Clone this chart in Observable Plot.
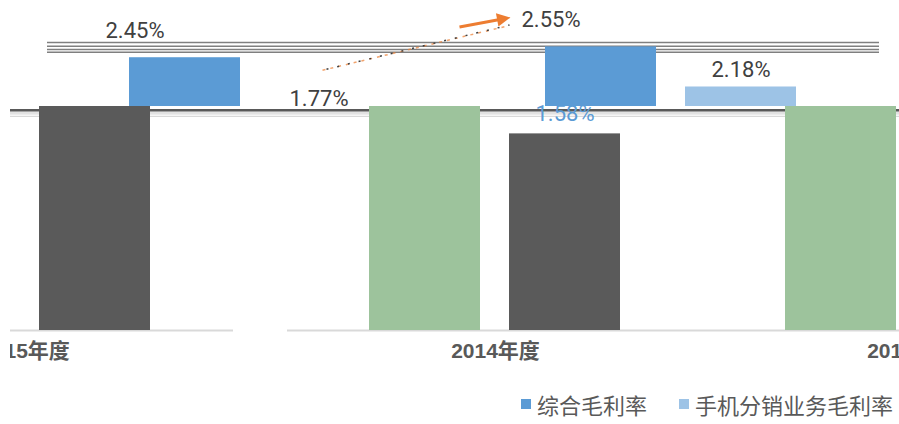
<!DOCTYPE html>
<html><head><meta charset="utf-8">
<script src="https://cdn.jsdelivr.net/npm/d3@7"></script>
<script src="https://cdn.jsdelivr.net/npm/@observablehq/plot@0.6"></script>
<style>
html,body{margin:0;padding:0;background:#fff;}
#wrap{position:relative;width:899px;height:424px;overflow:hidden;background:#fff;}
#bottom{position:absolute;left:-129px;top:86px;width:1248px;}
#top{position:absolute;left:47px;top:0;width:1248px;}
#mask{position:absolute;left:0;top:0;width:10px;height:424px;background:#fff;}
#legend{position:absolute;left:521px;top:387px;width:420px;}
#wrap svg{max-width:none !important;}
#legend div{font-size:22px !important;color:#595959 !important;font-family:"Noto Sans CJK SC","Noto Sans",sans-serif !important;}
#legend .lg-swatch{margin-right:32px !important;}
#legend .lg-swatch > svg{margin-right:6px !important;}
</style></head><body>
<div id="wrap"><div id="bottom"></div><div id="top"></div><div id="mask"></div><div id="legend"></div></div>
<script>
// ---- data ----
const years = ["2015年度", "2014年度", "2013年度"];
const topSeries = ["综合毛利率", "手机分销业务毛利率"];
const zongheRate = [2.45, 2.55, null];     // 综合毛利率 (%)
const phoneRate = [1.77, 2.18, null];      // 手机分销业务毛利率 (%)
const bottomSeries = ["系列3", "系列4"];
const series3 = [null, 1.92, 2.05];        // green bars (clipped at top)
const series4 = [1.98, 1.58, null];        // dark grey bars
const topGrid = [2.5, 2.525, 2.555, 2.59];
const bottomGrid = [1.72, 1.74, 1.755];
const refLine = [1.77];
const trendFrom = {year: "2015年度", series: "手机分销业务毛利率", value: 2.33};
const trendTo = {year: "2014年度", series: "综合毛利率"};

// ---- tables ----
const topRows = [];
years.forEach((yr, i) => {
  if (zongheRate[i] != null) topRows.push({year: yr, series: topSeries[0], value: zongheRate[i]});
  if (phoneRate[i] != null) topRows.push({year: yr, series: topSeries[1], value: phoneRate[i]});
});
const bottomRows = [];
years.forEach((yr, i) => {
  if (series3[i] != null) bottomRows.push({year: yr, series: bottomSeries[0], value: series3[i]});
  if (series4[i] != null) bottomRows.push({year: yr, series: bottomSeries[1], value: series4[i]});
});
const pct = v => d3.format(".2f")(v) + "%";

const bandX = {paddingInner: 0.207, paddingOuter: 0.589, axis: null};
const labelFont = "Roboto, 'Liberation Sans', sans-serif";

// ---- top layer ----
const yTopMin = 2.0, yTopMax = 2.978;
const lbOpts = {fx: "year", x: "series", y: "value", text: d => pct(d.value),
  fontSize: 22, fill: "#404040", fontFamily: labelFont};
const topPlot = Plot.plot({
  width: 1248, height: 114,
  marginTop: 0, marginBottom: 8, marginLeft: 0, marginRight: 0,
  style: {background: "transparent", overflow: "hidden"},
  fx: {domain: years, padding: 0, axis: null},
  x: {domain: topSeries, ...bandX},
  y: {domain: [yTopMin, yTopMax], clamp: true, axis: null},
  color: {domain: topSeries, range: ["#5B9BD5", "#9DC3E6"]},
  marks: [
    Plot.ruleY(topGrid, {stroke: "#7f7f7f", strokeWidth: 1.5}),
    Plot.barY(topRows, {fx: "year", x: "series", y: "value", fill: "series"}),
    Plot.text(topRows.filter(d => d.series === topSeries[0]), {...lbOpts, dx: -50, dy: -27}),
    Plot.text(topRows.filter(d => d.series === topSeries[1] && d.value >= yTopMin), {...lbOpts, dy: -17}),
    Plot.text(topRows.filter(d => d.series === topSeries[1] && d.value < yTopMin), {...lbOpts, dx: -6, dy: -8})
  ]
});
document.getElementById("top").appendChild(topPlot);

// trend arrow, positioned through the plot's scales
(function () {
  const fxS = topPlot.scale("fx"), xS = topPlot.scale("x"), yS = topPlot.scale("y");
  const cx = (yr, s) => fxS.apply(yr) + xS.apply(s) + xS.bandwidth / 2;
  const x0 = cx(trendFrom.year, trendFrom.series) - 2;
  const y0 = yS.apply(trendFrom.value);
  const labelX = cx(trendTo.year, trendTo.series) - 50;
  const x2 = labelX - 48, y2 = 19;
  const x1 = x2 - 43, y1 = y2 + 8;
  const svg = d3.select(topPlot);
  const defs = svg.append("defs");
  defs.append("marker").attr("id", "ah").attr("viewBox", "0 0 10 10")
    .attr("refX", 4).attr("refY", 5).attr("markerWidth", 5.5).attr("markerHeight", 4.5)
    .attr("orient", "auto")
    .append("path").attr("d", "M0,0L10,5L0,10z").attr("fill", "#ED7D31");
  svg.append("line").attr("x1", x0).attr("y1", y0).attr("x2", x1 + 48).attr("y2", y1 - 1)
    .attr("stroke", "#ED7D31").attr("stroke-opacity", 0.7).attr("stroke-width", 1.5).attr("stroke-dasharray", "3 5");
  svg.append("line").attr("x1", x0 + 4).attr("y1", y0 - 1).attr("x2", x1 + 50).attr("y2", y1 - 2)
    .attr("stroke", "#404040").attr("stroke-width", 1.5).attr("stroke-dasharray", "2 9");
  svg.append("line").attr("x1", x1).attr("y1", y1).attr("x2", x2).attr("y2", y2)
    .attr("stroke", "#ED7D31").attr("stroke-width", 3).attr("marker-end", "url(#ah)");
})();

// ---- bottom layer ----
const yBotMax = 1.8;
const shiftedYear = years[0];
const notShifted = d => d.year !== shiftedYear;
const isShifted = d => d.year === shiftedYear;
const barOpts = {fx: "year", x: "series", y: "value", fill: "series"};
const lblOpts = {fx: "year", x: "series", y: "value", text: d => pct(d.value),
  dy: -20, fontSize: 22, fill: "#5B9BD5", fontFamily: labelFont};
const yearOpts = {fx: d => d, text: d => d, frameAnchor: "bottom", dy: 27,
  fontSize: 21, fontWeight: "bold", fill: "#595959",
  fontFamily: "'Liberation Sans', 'Noto Sans CJK SC', sans-serif"};
const yearRows = years.map(y => ({year: y}));
const bottomPlot = Plot.plot({
  width: 1248, height: 290,
  marginTop: 20, marginBottom: 46, marginLeft: 0, marginRight: 0,
  style: {background: "transparent", overflow: "hidden"},
  fx: {domain: years, padding: 0, axis: null},
  x: {domain: bottomSeries, ...bandX},
  y: {domain: [0, yBotMax], clamp: true, axis: null},
  color: {domain: bottomSeries, range: ["#9DC39C", "#5A5A5A"]},
  marks: [
    Plot.ruleY(bottomGrid, {stroke: "#d9d9d9", strokeWidth: 1.2}),
    Plot.ruleY(refLine, {stroke: "#595959", strokeWidth: 2.5}),
    Plot.ruleY(yearRows.filter(notShifted), {fx: "year", y: () => 0, stroke: "#d9d9d9", strokeWidth: 2}),
    Plot.ruleY(yearRows.filter(isShifted), {fx: "year", y: () => 0, stroke: "#d9d9d9", strokeWidth: 2, dx: -54}),
    Plot.barY(bottomRows.filter(notShifted), barOpts),
    Plot.barY(bottomRows.filter(isShifted), {...barOpts, dx: -54}),
    Plot.text(bottomRows.filter(d => d.value <= yBotMax), lblOpts),
    Plot.text(years.filter(y => y !== shiftedYear), yearOpts),
    Plot.text(years.filter(y => y === shiftedYear), {...yearOpts, dx: -54})
  ]
});
document.getElementById("bottom").appendChild(bottomPlot);

// ---- legend ----
const leg = topPlot.legend("color", {swatchSize: 10, className: "lg"});
document.getElementById("legend").appendChild(leg);
</script></body></html>
